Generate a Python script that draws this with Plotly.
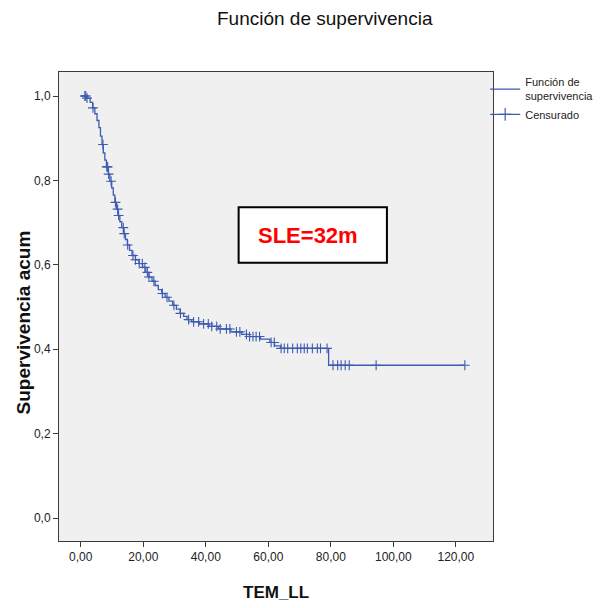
import plotly.graph_objects as go

# Kaplan-Meier step curve (time in months, cumulative survival)
event_times = [0.0, 2.0, 3.0, 3.8, 4.5, 5.2, 5.8, 6.3, 6.8, 7.2, 7.7, 8.2, 8.8, 9.3, 9.9,
               10.4, 10.9, 11.4, 11.9, 12.5, 13.1, 13.7, 14.3, 14.9, 15.6, 16.4, 17.5,
               18.6, 19.8, 20.8, 21.8, 22.8, 23.8, 24.8, 25.9, 27.0, 28.2, 29.4, 30.6,
               31.8, 32.9, 34.0, 35.5, 38.0, 41.0, 44.0, 48.0, 51.5, 54.0, 57.5, 60.5,
               62.0, 64.0, 79.3]
survival = [1.000, 0.995, 0.985, 0.972, 0.958, 0.942, 0.925, 0.905, 0.885, 0.865, 0.848,
            0.832, 0.815, 0.798, 0.782, 0.765, 0.748, 0.732, 0.717, 0.702, 0.688, 0.674,
            0.660, 0.647, 0.634, 0.622, 0.612, 0.603, 0.594, 0.582, 0.571, 0.561, 0.551,
            0.541, 0.532, 0.523, 0.514, 0.504, 0.495, 0.485, 0.478, 0.470, 0.465, 0.460,
            0.454, 0.448, 0.441, 0.435, 0.430, 0.424, 0.416, 0.408, 0.402, 0.362]

censored_times = [1.3, 1.6, 2.0, 3.9, 7.1, 8.3, 8.6, 8.9, 9.7, 11.1, 11.8, 12.1, 13.6, 13.9,
                  15.0, 16.7, 17.5, 18.7, 19.7, 20.5, 21.3, 21.8, 23.4, 26.1, 27.6, 29.8,
                  31.9, 34.5, 36.1, 37.7, 39.3, 40.8, 41.9, 43.5, 44.6, 46.6, 47.7, 49.8,
                  50.9, 53.0, 54.0, 55.1, 56.1, 57.2, 60.9, 61.9, 64.1, 65.1, 66.2, 67.8,
                  69.3, 70.4, 71.5, 72.5, 74.1, 75.7, 76.7, 78.8, 80.7, 82.2, 83.3, 84.6,
                  85.9, 94.5, 122.9]

x_ticks = [0, 20, 40, 60, 80, 100, 120]
x_tick_labels = ["0,00", "20,00", "40,00", "60,00", "80,00", "100,00", "120,00"]
y_ticks = [0.0, 0.2, 0.4, 0.6, 0.8, 1.0]
y_tick_labels = ["0,0", "0,2", "0,4", "0,6", "0,8", "1,0"]

title_text = "Función de supervivencia"
x_title = "TEM_LL"
y_title = "Supervivencia acum"
note_text = "SLE=32m"

BLUE = "#3D5BB0"
FONT = "Liberation Sans, Arial, sans-serif"


def surv_at(t):
    s = survival[0]
    for et, sv in zip(event_times, survival):
        if et <= t:
            s = sv
    return s


step_x = list(event_times) + [max(censored_times)]
step_y = list(survival) + [survival[-1]]
cens_y = [surv_at(t) for t in censored_times]

fig = go.Figure()
fig.add_trace(go.Scatter(x=step_x, y=step_y, mode="lines", line=dict(color=BLUE, width=1.3, shape="hv"),
                         showlegend=False, hoverinfo="skip"))
fig.add_trace(go.Scatter(x=censored_times, y=cens_y, mode="markers",
                         marker=dict(symbol="cross-thin", size=7, line=dict(color=BLUE, width=1.1)),
                         showlegend=False))
# legend entries
fig.add_trace(go.Scatter(x=[None], y=[None], mode="lines", name="Función de<br>supervivencia",
                         line=dict(color=BLUE, width=1.3, shape="hv")))
fig.add_trace(go.Scatter(x=[None], y=[None], mode="lines+markers", name="Censurado",
                         line=dict(color=BLUE, width=1.3),
                         marker=dict(symbol="cross-thin", size=9, line=dict(color=BLUE, width=1.2))))

L, R, T, B = 59, 113, 72, 67
W, H = 611, 608
pw, ph = W - L - R, H - T - B


def px_x(p):
    return (p - L) / pw


def px_y(p):
    return (H - B - p) / ph


fig.add_shape(type="rect", xref="paper", yref="paper",
              x0=px_x(240.7), x1=px_x(390.7), y0=px_y(262.7), y1=px_y(207.3),
              fillcolor="white", line=dict(color="black", width=2), layer="above")
fig.add_annotation(xref="paper", yref="paper", x=px_x(310.5), y=px_y(235.5), text=note_text,
                   showarrow=False, xanchor="center", yanchor="middle",
                   font=dict(family=FONT, size=22, color="#FF0000", weight="bold"))

fig.add_annotation(xref="paper", yref="paper", x=px_x(328), y=px_y(19), text=title_text,
                   showarrow=False, xanchor="center", yanchor="middle",
                   font=dict(family=FONT, size=19, color="#111111"))
fig.add_annotation(xref="paper", yref="paper", x=px_x(278), y=px_y(592), text=x_title,
                   showarrow=False, xanchor="center", yanchor="middle",
                   font=dict(family=FONT, size=17, color="#111111", weight="bold"))
fig.add_annotation(xref="paper", yref="paper", x=px_x(23), y=px_y(322), text=y_title,
                   showarrow=False, xanchor="center", yanchor="middle", textangle=-90,
                   font=dict(family=FONT, size=19, color="#111111", weight="bold"))

axis_common = dict(showgrid=False, zeroline=False, showline=True, mirror=True,
                   linecolor="#3a3a3a", linewidth=1, ticks="outside", ticklen=5,
                   tickwidth=1, tickcolor="#3a3a3a",
                   tickfont=dict(family=FONT, size=12, color="#222222"))

fig.update_layout(
    width=W, height=H,
    margin=dict(l=L, r=R, t=T, b=B, pad=0),
    paper_bgcolor="white", plot_bgcolor="#F0F0F0",
    xaxis=dict(range=[-6.97, 131.9], tickvals=x_ticks, ticktext=x_tick_labels, **axis_common),
    yaxis=dict(range=[-0.0545, 1.0569], tickvals=y_ticks, ticktext=y_tick_labels, **axis_common),
    legend=dict(x=0.982, y=1.008, xanchor="left", yanchor="top", bgcolor="rgba(0,0,0,0)",
                font=dict(family=FONT, size=11, color="#222222"), itemwidth=30,
                tracegroupgap=0),
    showlegend=True,
)

fig.write_html("out.html", config={"displayModeBar": False},
               post_script="document.body.style.margin='0px';document.body.style.overflow='hidden';")
